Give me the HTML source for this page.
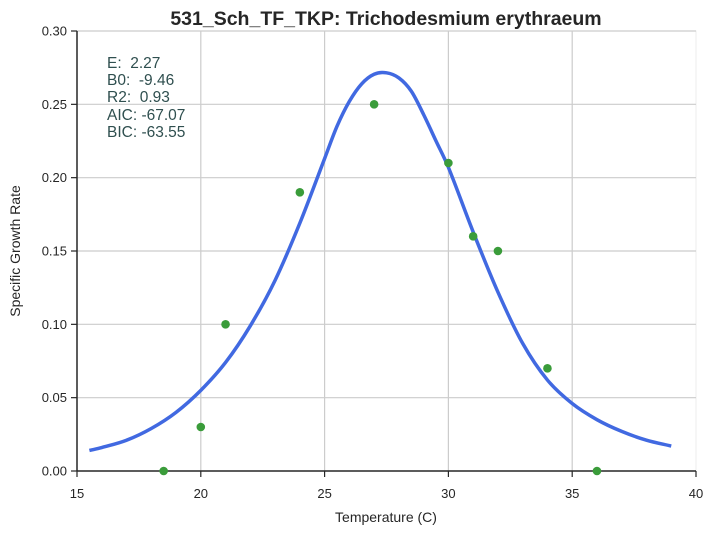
<!DOCTYPE html>
<html><head><meta charset="utf-8"><style>
body{margin:0;background:#fff;}
svg{display:block;font-family:"Liberation Sans",sans-serif;}
</style></head><body>
<svg id="chart" width="713" height="534">
<text x="386" y="25" text-anchor="middle" font-size="19.5" font-weight="bold" fill="#262626">531_Sch_TF_TKP: Trichodesmium erythraeum</text>
<g id="grid"></g>
<g id="axes"></g>
<path id="curve" fill="none" stroke="#4169e1" stroke-width="3.5"/>
<g id="pts"></g>
<g font-size="15.5" fill="#2f4f4f">
<text x="107" y="68">E:&#160;&#160;2.27</text>
<text x="107" y="85">B0:&#160;&#160;-9.46</text>
<text x="107" y="102">R2:&#160;&#160;0.93</text>
<text x="107" y="120">AIC: -67.07</text>
<text x="107" y="137">BIC: -63.55</text>
</g>
<text x="386" y="522" text-anchor="middle" font-size="14" fill="#262626">Temperature (C)</text>
<text transform="translate(20,251) rotate(-90)" text-anchor="middle" font-size="14" fill="#262626">Specific Growth Rate</text>
</svg>
<script>
const xTicks=[15,20,25,30,35,40];
const yTicks=[0,0.05,0.10,0.15,0.20,0.25,0.30];
const yTickLabels=["0.00","0.05","0.10","0.15","0.20","0.25","0.30"];
const obsTemp=[18.5,20,21,24,27,30,31,32,34,36];
const obsRate=[0,0.03,0.10,0.19,0.25,0.21,0.16,0.15,0.07,0.0];
const fitTemp=[15.5,16,17,18,19,20,21,22,23,24,25,25.5,26,26.5,27,27.5,28,28.5,29,29.5,30,31,32,33,34,35,36,37,38,39];
const fitRate=[0.014,0.016,0.021,0.029,0.040,0.055,0.074,0.099,0.130,0.169,0.213,0.235,0.252,0.264,0.2705,0.2715,0.268,0.259,0.243,0.225,0.207,0.163,0.122,0.087,0.062,0.046,0.035,0.027,0.021,0.017];
const X0=77,X1=696,Y0=471,Y1=31;
const xs=v=>X0+(v-15)/(40-15)*(X1-X0);
const ys=v=>Y0-(v/0.30)*(Y0-Y1);
const NS="http://www.w3.org/2000/svg";
function mk(tag,attrs,parent){const e=document.createElementNS(NS,tag);for(const k in attrs)e.setAttribute(k,attrs[k]);parent.appendChild(e);return e;}
const grid=document.getElementById('grid'),axes=document.getElementById('axes');
mk('rect',{x:X0,y:Y1,width:X1-X0,height:Y0-Y1,fill:'none',stroke:'#eee'},grid);
xTicks.forEach(t=>{
 if(t>15&&t<40){const l=mk('line',{x1:xs(t),x2:xs(t),y1:Y1,y2:Y0,stroke:'#cccccc','stroke-width':1.2},grid);
 
 }
 mk('line',{x1:xs(t),x2:xs(t),y1:Y0,y2:Y0+6,stroke:'#262626','stroke-width':1.2},axes);
 const tx=mk('text',{x:xs(t),y:Y0+27,'text-anchor':'middle','font-size':13,fill:'#262626'},axes);
 tx.textContent=t;
 
 
});
yTicks.forEach((t,i)=>{
 if(t>0){const l=mk('line',{x1:X0,x2:X1,y1:ys(t),y2:ys(t),stroke:'#cccccc','stroke-width':1.2},grid);
 
 }
 mk('line',{x1:X0-6,x2:X0,y1:ys(t),y2:ys(t),stroke:'#262626','stroke-width':1.2},axes);
 const tx=mk('text',{x:X0-10,y:ys(t)+4.5,'text-anchor':'end','font-size':13,fill:'#262626'},axes);
 tx.textContent=yTickLabels[i];
 
 
});
mk('line',{x1:X0,x2:X0,y1:Y1,y2:Y0,stroke:'#262626','stroke-width':1.5},axes);
mk('line',{x1:X0,x2:X1,y1:Y0,y2:Y0,stroke:'#262626','stroke-width':1.5},axes);
const P=fitTemp.map((t,i)=>[xs(t),ys(fitRate[i])]);
let d='M'+P[0][0]+','+P[0][1];
for(let i=0;i<P.length-1;i++){const p0=P[i-1]||P[i],p1=P[i],p2=P[i+1],p3=P[i+2]||p2;
 const t1=(p2[0]-p0[0]),t2=(p3[0]-p1[0]);const h=p2[0]-p1[0];
 const m1=(p2[1]-p0[1])/t1, m2=(p3[1]-p1[1])/t2;
 d+=' C'+(p1[0]+h/3)+','+(p1[1]+m1*h/3)+' '+(p2[0]-h/3)+','+(p2[1]-m2*h/3)+' '+p2[0]+','+p2[1];}
document.getElementById('curve').setAttribute('d',d);
const pts=document.getElementById('pts');
obsTemp.forEach((t,i)=>{
 const c=mk('circle',{cx:xs(t),cy:ys(obsRate[i]),r:4.3,fill:'#3a9c3a'},pts);
 
 
});
</script>
</body></html>
